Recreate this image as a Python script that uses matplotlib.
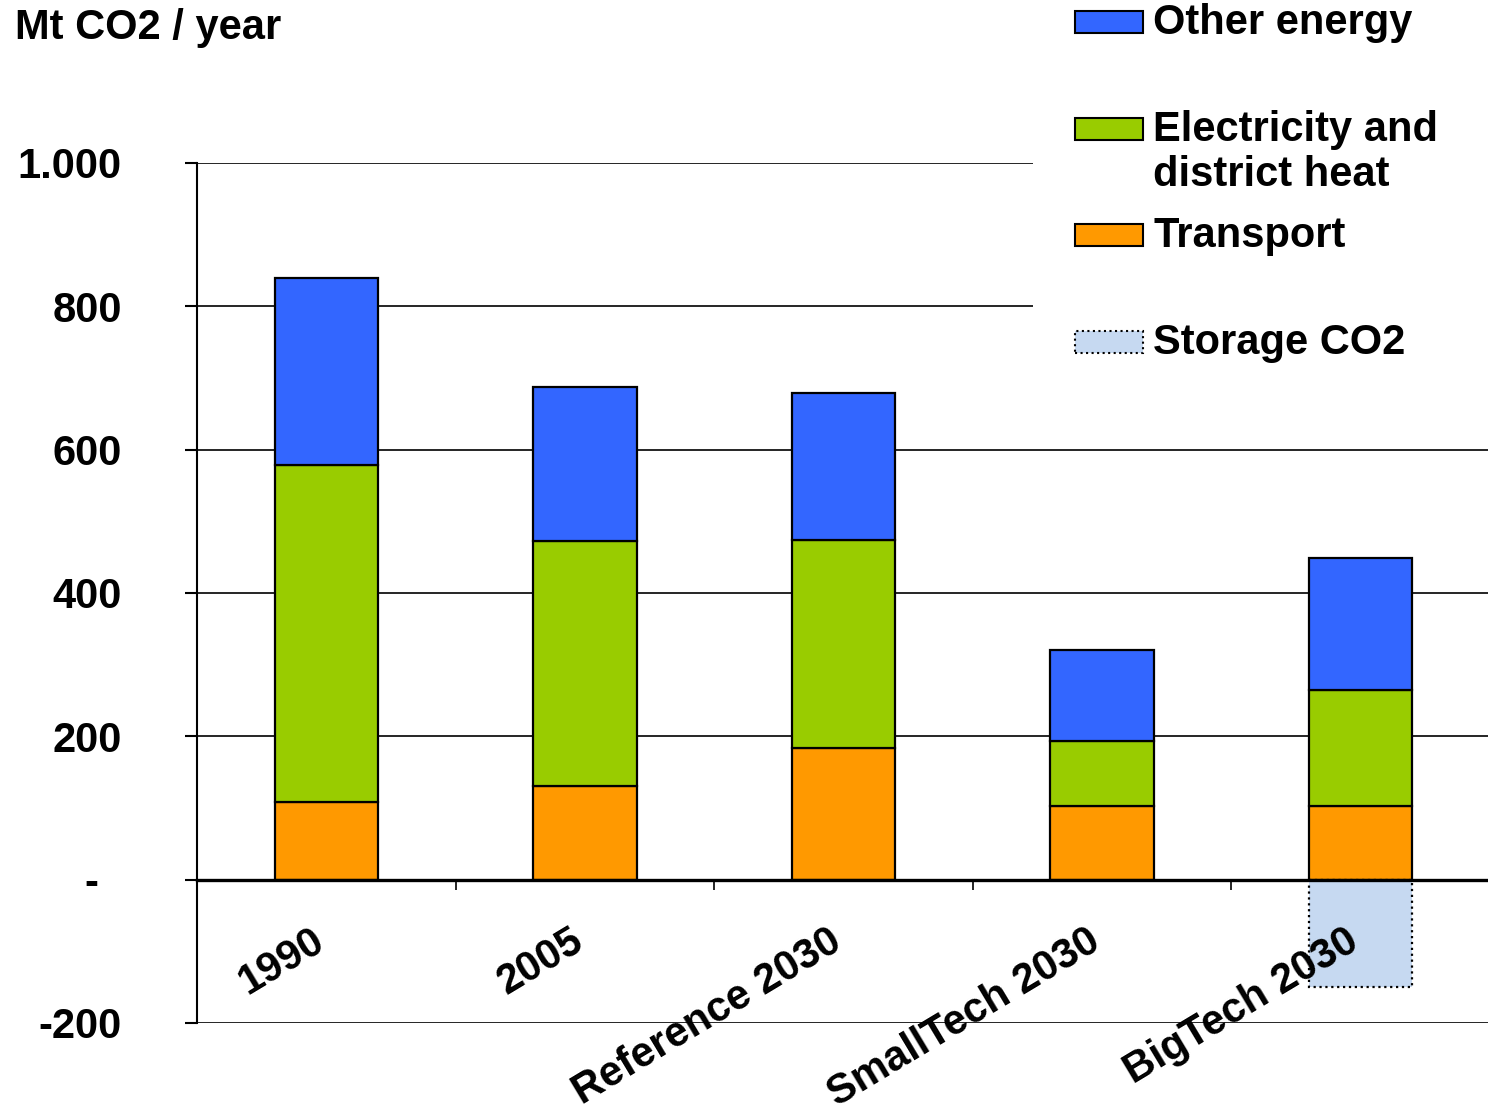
import numpy as np
import matplotlib
matplotlib.use("Agg")
import matplotlib.pyplot as plt
from matplotlib.patches import Rectangle

plt.rcParams['font.family'] = ['Liberation Sans', 'DejaVu Sans']
plt.rcParams['font.weight'] = 'bold'

categories = ["1990", "2005", "Reference 2030", "SmallTech 2030", "BigTech 2030"]
transport = [108, 131, 184, 103, 103]
electricity = [471, 341, 290, 90, 162]
other_energy = [260, 215, 205, 127, 184]
storage = [0, 0, 0, 0, -150]

yticks = [-200, 0, 200, 400, 600, 800, 1000]
ytick_labels = ["-200", "-  ", "200", "400", "600", "800", "1.000"]

c_other = '#3366FF'
c_elec = '#99CC00'
c_trans = '#FF9900'
c_store = '#C6D9F1'

fs = 30

W, H = 1488, 1116
fig = plt.figure(figsize=(W / 100, H / 100), dpi=100)
ax = fig.add_axes([197 / W, 1 - 1023 / H, (1490 - 197) / W, (1023 - 163) / H])

x = np.arange(len(categories))
t = np.array(transport)
e = np.array(electricity)
o = np.array(other_energy)
s = np.array(storage)

bw = 0.4
ax.bar(x, t, bw, color=c_trans, edgecolor='black', linewidth=1.6, zorder=2)
ax.bar(x, e, bw, bottom=t, color=c_elec, edgecolor='black', linewidth=1.6, zorder=2)
ax.bar(x, o, bw, bottom=t + e, color=c_other, edgecolor='black', linewidth=1.6, zorder=2)
m = s != 0
ax.bar(x[m], s[m], bw, color=c_store, edgecolor='black', linewidth=1.6,
       linestyle=':', zorder=2)

ax.set_xlim(-0.5, len(categories) - 0.5)
ax.set_ylim(-200, 1000)
ax.set_yticks(yticks)
ax.set_yticklabels(ytick_labels, fontsize=fs, fontweight='bold')
ax.tick_params(axis='y', direction='out', length=9, width=1.5, pad=45)
ax.yaxis.grid(True, color='black', linewidth=1.2)
ax.set_axisbelow(True)

# x axis sits on zero with ticks between categories
ax.spines['bottom'].set_position(('data', 0))
ax.spines['bottom'].set_linewidth(2.4)
ax.spines['bottom'].set_zorder(3)
ax.set_xticks(np.arange(-0.5, len(categories), 1.0))
ax.set_xticklabels([])
ax.tick_params(axis='x', direction='out', length=7, width=1.2)
ax.spines['left'].set_linewidth(1.5)
ax.spines['top'].set_visible(False)
ax.spines['right'].set_visible(False)

for i, lab in enumerate(categories):
    ax.text(i - 0.06, -58, lab, rotation=31, ha='right', va='top',
            rotation_mode='anchor', fontsize=fs, fontweight='bold', zorder=4)

fig.text(15 / W, 1 - 28 / H, "Mt CO2 / year", fontsize=fs, fontweight='bold',
         ha='left', va='center')

# legend area
fig.patches.append(Rectangle((1033 / W, 1 - 372 / H), 1 - 1033 / W, 372 / H,
                             transform=fig.transFigure, facecolor='white',
                             edgecolor='none', zorder=5))
leg = [(c_other, '-', "Other energy", 22),
       (c_elec, '-', "Electricity and\ndistrict heat", 129),
       (c_trans, '-', "Transport", 235),
       (c_store, ':', "Storage CO2", 342)]
for col, ls, lab, yc in leg:
    fig.patches.append(Rectangle((1075 / W, 1 - (yc + 11) / H), 68 / W, 22 / H,
                                 transform=fig.transFigure, facecolor=col,
                                 edgecolor='black', linewidth=1.5, linestyle=ls,
                                 zorder=6))
    fig.text(1153 / W, 1 - (yc - 19) / H, lab, fontsize=fs, fontweight='bold',
             ha='left', va='top', linespacing=1.15, zorder=7)

fig.savefig("out.png", dpi=100)
